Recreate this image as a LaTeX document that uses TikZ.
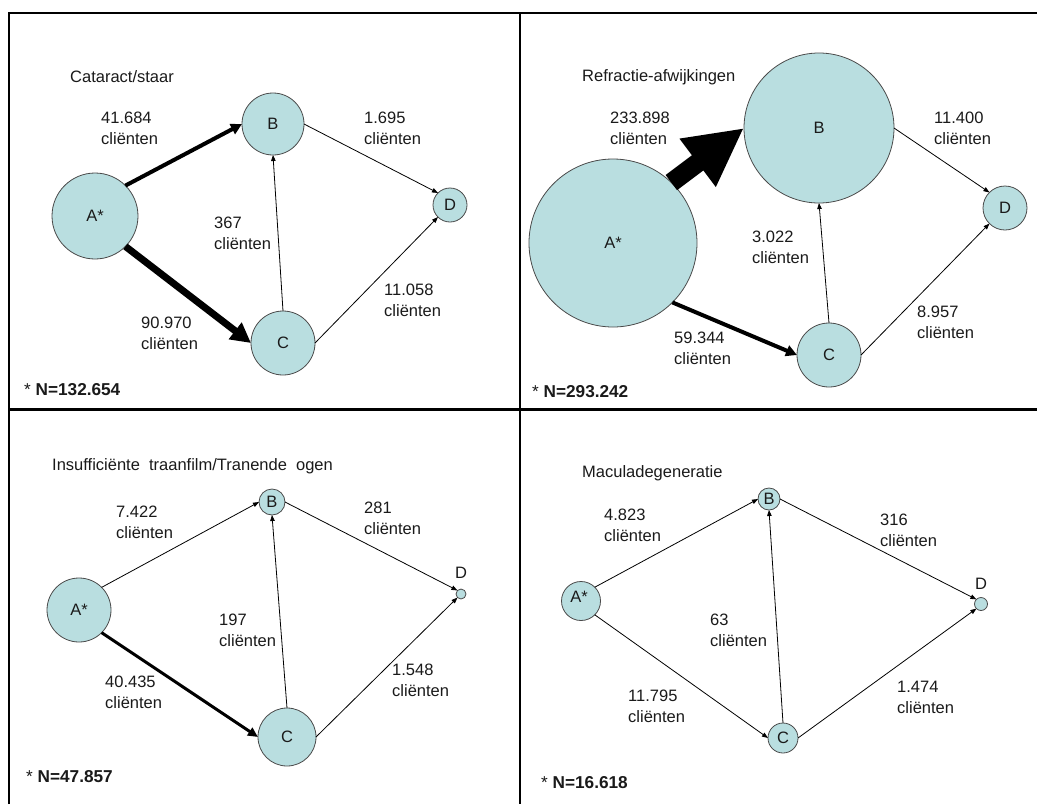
\documentclass[tikz,border=0pt]{standalone}
\usepackage{fontspec}
\setmainfont{Liberation Sans}
\usetikzlibrary{arrows.meta}
\definecolor{cfill}{HTML}{B9DEE0}
\definecolor{cline}{HTML}{4A4A4A}
\definecolor{ctext}{HTML}{1A1A1A}
\tikzset{
  nd/.style={circle,draw=cline,fill=cfill,inner sep=0pt,outer sep=0pt,line width=0.8pt,
    label={[text=ctext,inner sep=0pt]center:#1}},
  dot/.style={circle,draw=cline,fill=cfill,inner sep=0pt,outer sep=0pt,line width=0.8pt},
  lbl/.style={align=left,inner sep=0pt,anchor=west,text=ctext},
  ttl/.style={inner sep=0pt,anchor=west,text=ctext},
  nlbl/.style={inner sep=0pt,anchor=west,text=ctext,font=\fontsize{17.2}{21}\selectfont\bfseries},
  thin/.style={line width=0.8pt,-{Triangle[length=6pt,width=4.5pt]}},
  med/.style={line width=3pt,-{Triangle[length=10pt,width=9pt]}},
  mid/.style={line width=4pt,-{Triangle[length=11pt,width=11pt]}},
  fat/.style={line width=7pt,-{Triangle[length=20pt,width=20pt]}},
  huge/.style={line width=19pt,-{Triangle[length=58pt,width=56pt]}},
  frame/.style={line width=2.3pt,draw=black}
}
\begin{document}
\begin{tikzpicture}[x=1pt,y=-1pt,font=\fontsize{16.5}{21}\selectfont]
\useasboundingbox (0,0) rectangle (1037,804);
\fill[white] (0,0) rectangle (1037,804);
% frame
\draw[frame] (9,804) -- (9,13) -- (1037,13);
\draw[frame] (520,13) -- (520,804);
\draw[frame] (9,409.5) -- (1037,409.5);

% ---------- Panel 1 ----------
\node[ttl] (t1) at (70,77) {Cataract/staar};
\node[nd={A*},minimum size=86pt] (a1) at (95,216) {};
\node[nd={B},minimum size=62pt] (b1) at (273,124) {};
\node[nd={C},minimum size=64pt] (c1) at (283,343) {};
\node[nd={D},minimum size=34pt] (d1) at (450,205) {};
\draw[mid] (a1.45) -- (b1.west);
\draw[fat] (a1.-45) -- (c1.west);
\draw[thin] (c1.north) -- (b1.south);
\draw[thin] (b1.east) -- (d1.135);
\draw[thin] (c1.east) -- (d1.-135);
\node[lbl] (l1ab) at (101,128.5) {41.684\\cliënten};
\node[lbl] (l1bd) at (364,128.5) {1.695\\cliënten};
\node[lbl] (l1cb) at (214,233.5) {367\\cliënten};
\node[lbl] (l1cd) at (384,300) {11.058\\cliënten};
\node[lbl] (l1ac) at (141,333.5) {90.970\\cliënten};
\node[nlbl] (n1) at (24,390) {{\mdseries *} N=132.654};

% ---------- Panel 2 ----------
\node[ttl] (t2) at (582,77) {Refractie-afwijkingen};
\node[nd={A*},minimum size=168pt] (a2) at (613,243) {};
\node[nd={B},minimum size=150pt] (b2) at (819,128) {};
\node[nd={C},minimum size=64pt] (c2) at (829,355) {};
\node[nd={D},minimum size=44pt] (d2) at (1005,208) {};
\draw[huge] (a2.46) -- (b2.west);
\draw[mid] (a2.-45) -- (c2.west);
\draw[thin] (c2.north) -- (b2.south);
\draw[thin] (b2.east) -- (d2.135);
\draw[thin] (c2.east) -- (d2.-135);
\node[lbl] (l2ab) at (610,128.5) {233.898\\cliënten};
\node[lbl] (l2bd) at (934,128.5) {11.400\\cliënten};
\node[lbl] (l2cb) at (752,247) {3.022\\cliënten};
\node[lbl] (l2cd) at (917,322.5) {8.957\\cliënten};
\node[lbl] (l2ac) at (674,348) {59.344\\cliënten};
\node[nlbl] (n2) at (532,392) {{\mdseries *} N=293.242};

% ---------- Panel 3 ----------
\node[ttl] (t3) at (52,466) {Insufficiënte~ traanfilm/Tranende~ ogen};
\node[nd={A*},minimum size=64pt] (a3) at (79,610) {};
\node[nd={B},minimum size=26pt] (b3) at (272,502) {};
\node[nd={C},minimum size=58pt] (c3) at (287,737) {};
\node[dot,minimum size=10pt] (d3) at (461,594) {};
\node[ttl,anchor=center] (d3l) at (461,573) {D};
\draw[thin] (a3.45) -- (b3.west);
\draw[med] (a3.-45) -- (c3.west);
\draw[thin] (c3.north) -- (b3.south);
\draw[thin] (b3.east) -- (d3.135);
\draw[thin] (c3.east) -- (d3.-135);
\node[lbl] (l3ab) at (116,522.5) {7.422\\cliënten};
\node[lbl] (l3bd) at (364,518) {281\\cliënten};
\node[lbl] (l3cb) at (219,630.5) {197\\cliënten};
\node[lbl] (l3cd) at (392,680.5) {1.548\\cliënten};
\node[lbl] (l3ac) at (105,692.5) {40.435\\cliënten};
\node[nlbl] (n3) at (26,777) {{\mdseries *} N=47.857};

% ---------- Panel 4 ----------
\node[ttl] (t4) at (582,473) {Maculadegeneratie};
\node[dot,minimum size=39pt] (a4) at (581,601) {};
\node[ttl,anchor=center] (a4l) at (579,597) {A*};
\node[nd={B},minimum size=22pt] (b4) at (769,499) {};
\node[nd={C},minimum size=30pt] (c4) at (783,738) {};
\node[dot,minimum size=13pt] (d4) at (981,604) {};
\node[ttl,anchor=center] (d4l) at (981,584) {D};
\draw[thin] (a4.45) -- (b4.west);
\draw[thin] (a4.-45) -- (c4.west);
\draw[thin] (c4.north) -- (b4.south);
\draw[thin] (b4.east) -- (d4.135);
\draw[thin] (c4.east) -- (d4.-135);
\node[lbl] (l4ab) at (604,525.5) {4.823\\cliënten};
\node[lbl] (l4bd) at (880,530) {316\\cliënten};
\node[lbl] (l4cb) at (710,630.5) {63\\cliënten};
\node[lbl] (l4cd) at (897,697.5) {1.474\\cliënten};
\node[lbl] (l4ac) at (628,706) {11.795\\cliënten};
\node[nlbl] (n4) at (541,783) {{\mdseries *} N=16.618};
\end{tikzpicture}
\end{document}
